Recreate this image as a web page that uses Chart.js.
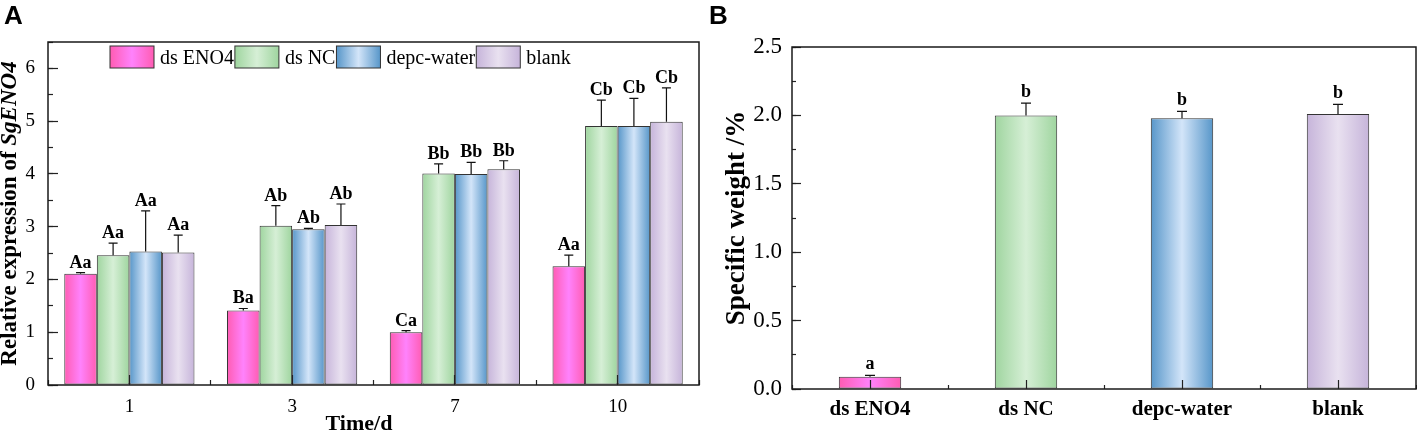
<!DOCTYPE html>
<html>
<head>
<meta charset="utf-8">
<script src="https://cdn.jsdelivr.net/npm/chart.js@4.4.1/dist/chart.umd.min.js"></script>
<style>
  html, body { margin: 0; padding: 0; background: #fff; }
  body { width: 1417px; height: 435px; position: relative; overflow: hidden; }
  .panel { position: absolute; top: 0; height: 435px; }
  #panelA { left: 0; width: 704px; }
  #panelB { left: 704px; width: 713px; }
</style>
</head>
<body>
<div class="panel" id="panelA"><canvas id="chartA"></canvas></div>
<div class="panel" id="panelB"><canvas id="chartB"></canvas></div>
<script>
// ---- Panel A: relative expression over time ----
const days = ['1', '3', '7', '10'];
const seriesNames = ['ds ENO4', 'ds NC', 'depc-water', 'blank'];

const dsENO4 = [2.11, 1.41, 1.00, 2.25];
const dsENO4Err = [0.02, 0.04, 0.03, 0.21];
const dsENO4Letters = ['Aa', 'Ba', 'Ca', 'Aa'];

const dsNC = [2.46, 3.02, 4.01, 4.91];
const dsNCErr = [0.23, 0.38, 0.18, 0.49];
const dsNCLetters = ['Aa', 'Ab', 'Bb', 'Cb'];

const depcWater = [2.53, 2.95, 4.00, 4.91];
const depcWaterErr = [0.77, 0.02, 0.22, 0.52];
const depcWaterLetters = ['Aa', 'Ab', 'Bb', 'Cb'];

const blank = [2.51, 3.03, 4.09, 4.99];
const blankErr = [0.33, 0.40, 0.16, 0.64];
const blankLetters = ['Aa', 'Ab', 'Bb', 'Cb'];

// ---- Panel B: specific weight ----
const groups = ['ds ENO4', 'ds NC', 'depc-water', 'blank'];
const specificWeight = [0.09, 2.00, 1.98, 2.01];
const specificWeightErr = [0.01, 0.09, 0.05, 0.07];
const specificWeightLetters = ['a', 'b', 'b', 'b'];

const serif = "'Liberation Serif', 'Times New Roman', serif";
const sans = "'Liberation Sans', Arial, sans-serif";
Chart.defaults.font.family = serif;
Chart.defaults.color = '#000';

// bar colours as [edge, centre] of a horizontal gradient
const palette = [
  ['#ff5cb2', '#ff82fc'],
  ['#9fd59f', '#d6efd6'],
  ['#5796c9', '#d3e5f9'],
  ['#c6b4da', '#e9e1f0']
];

function makeGradient(ctx, left, width, pair) {
  const g = ctx.createLinearGradient(left, 0, left + width, 0);
  g.addColorStop(0, pair[0]);
  g.addColorStop(0.5, pair[1]);
  g.addColorStop(1, pair[0]);
  return g;
}

// scriptable fill: gradient across the width of each bar
function barFill(pick) {
  return function (c) {
    const pair = pick(c);
    const chart = c.chart;
    const xs = chart.scales.x;
    if (c.type !== 'data' || !xs) return pair[1];
    const ds = chart.data.datasets[c.datasetIndex];
    const nSets = chart.data.datasets.length;
    const catW = xs.width / chart.data.labels.length;
    const groupW = catW * ds.categoryPercentage;
    const slotW = groupW / nSets;
    const barW = slotW * ds.barPercentage;
    const centre = xs.getPixelForValue(c.dataIndex) - groupW / 2 + slotW * (c.datasetIndex + 0.5);
    if (!isFinite(centre) || !(barW > 0)) return pair[1];
    return makeGradient(chart.ctx, centre - barW / 2, barW, pair);
  };
}

// error bars (upper half) and significance letters
const errorBars = {
  id: 'errorBars',
  afterDatasetsDraw(chart, args, opts) {
    const ctx = chart.ctx;
    const ys = chart.scales.y;
    ctx.save();
    ctx.strokeStyle = '#111';
    ctx.lineWidth = 1.2;
    ctx.fillStyle = '#000';
    ctx.font = 'bold ' + opts.fontSize + 'px ' + serif;
    ctx.textAlign = 'center';
    ctx.textBaseline = 'alphabetic';
    chart.data.datasets.forEach((ds, di) => {
      chart.getDatasetMeta(di).data.forEach((bar, i) => {
        const base = ys.getPixelForValue(ds.data[i]);
        const top = ys.getPixelForValue(ds.data[i] + ds.errors[i]);
        ctx.beginPath();
        ctx.moveTo(bar.x, base);
        ctx.lineTo(bar.x, top);
        ctx.moveTo(bar.x - opts.cap, top);
        ctx.lineTo(bar.x + opts.cap, top);
        ctx.stroke();
        ctx.fillText(ds.letters[i], bar.x, top - opts.gap);
      });
    });
    ctx.restore();
  }
};

// box round the plot area
const frame = {
  id: 'frame',
  afterDatasetsDraw(chart) {
    const a = chart.chartArea;
    const ctx = chart.ctx;
    ctx.save();
    ctx.strokeStyle = '#1a1a1a';
    ctx.lineWidth = 1.5;
    ctx.strokeRect(a.left, a.top, a.right - a.left, a.bottom - a.top);
    ctx.restore();
  }
};

function rotatedTitle(ctx, parts, cx, cy) {
  ctx.save();
  ctx.translate(cx, cy);
  ctx.rotate(-Math.PI / 2);
  ctx.textBaseline = 'middle';
  ctx.textAlign = 'left';
  let total = 0;
  parts.forEach(p => { ctx.font = p.font; p.w = ctx.measureText(p.text).width; total += p.w; });
  let x = -total / 2;
  parts.forEach(p => { ctx.font = p.font; ctx.fillText(p.text, x, 0); x += p.w; });
  ctx.restore();
}

const panelAText = {
  id: 'panelAText',
  afterDraw(chart) {
    const ctx = chart.ctx;
    ctx.save();
    ctx.fillStyle = '#000';
    ctx.font = 'bold 26px ' + sans;
    ctx.textAlign = 'left';
    ctx.textBaseline = 'alphabetic';
    ctx.fillText('A', 4, 24);

    ctx.font = 'bold 22px ' + serif;
    ctx.textAlign = 'center';
    ctx.fillText('Time/d', 359, 430);

    rotatedTitle(ctx, [
      { text: 'Relative expression of ', font: 'bold 23px ' + serif },
      { text: 'SgENO4', font: 'italic bold 23px ' + serif }
    ], 10, (chart.chartArea.top + chart.chartArea.bottom) / 2);

    // legend inside the plot
    let x = 110;
    ctx.font = '20px ' + serif;
    ctx.textAlign = 'left';
    seriesNames.forEach((name, i) => {
      ctx.fillStyle = makeGradient(ctx, x, 44, palette[i]);
      ctx.fillRect(x, 46, 44, 22);
      ctx.strokeStyle = '#333';
      ctx.lineWidth = 1;
      ctx.strokeRect(x, 46, 44, 22);
      ctx.fillStyle = '#000';
      ctx.fillText(name, x + 50, 64);
      x += 50 + ctx.measureText(name).width + 1;
    });
    ctx.restore();
  }
};

const panelBText = {
  id: 'panelBText',
  afterDraw(chart) {
    const ctx = chart.ctx;
    ctx.save();
    ctx.fillStyle = '#000';
    ctx.font = 'bold 26px ' + sans;
    ctx.textAlign = 'left';
    ctx.textBaseline = 'alphabetic';
    ctx.fillText('B', 5, 24);
    rotatedTitle(ctx, [
      { text: 'Specific weight /%', font: 'bold 27px ' + serif }
    ], 33, (chart.chartArea.top + chart.chartArea.bottom) / 2);
    ctx.restore();
  }
};

function tickGrid(len, extra) {
  return Object.assign({
    drawOnChartArea: false,
    tickLength: len,
    tickColor: '#222',
    tickWidth: 1.2
  }, extra || {});
}

// ---- chart A ----
const seriesA = [
  [dsENO4, dsENO4Err, dsENO4Letters],
  [dsNC, dsNCErr, dsNCLetters],
  [depcWater, depcWaterErr, depcWaterLetters],
  [blank, blankErr, blankLetters]
];

new Chart(document.getElementById('chartA'), {
  type: 'bar',
  data: {
    labels: days,
    datasets: seriesA.map((s, i) => ({
      label: seriesNames[i],
      data: s[0],
      errors: s[1],
      letters: s[2],
      xAxisID: 'x',
      yAxisID: 'y',
      backgroundColor: barFill(() => palette[i]),
      borderColor: '#333',
      borderWidth: 1,
      borderSkipped: false,
      barPercentage: 1,
      categoryPercentage: 0.8
    }))
  },
  options: {
    responsive: true,
    maintainAspectRatio: false,
    animation: false,
    events: [],
    layout: { padding: { left: 0, top: 42, right: 5, bottom: 0 } },
    plugins: {
      legend: { display: false },
      tooltip: { enabled: false },
      errorBars: { cap: 4.5, gap: 5, fontSize: 18 }
    },
    scales: {
      x: {
        type: 'category', weight: 1, offset: true,
        grid: tickGrid(-5, { offset: true }),
        border: { display: false },
        ticks: { font: { size: 19 }, padding: 16, color: '#000' },
        afterFit: s => { s.height = 50; }
      },
      x2: {
        type: 'category', weight: 0, offset: true,
        grid: tickGrid(-10, { offset: false, z: 1 }),
        border: { display: false },
        ticks: { display: false },
        afterFit: s => { s.height = 0; }
      },
      y: {
        type: 'linear', position: 'left', weight: 1, min: 0, max: 6.5,
        grid: tickGrid(-10),
        border: { display: false },
        ticks: { stepSize: 1, includeBounds: false, padding: 23, font: { size: 19 }, color: '#000' },
        afterFit: s => { s.width = 48; }
      },
      y2: {
        type: 'linear', position: 'left', weight: 0, min: 0, max: 6.5,
        grid: tickGrid(-5),
        border: { display: false },
        ticks: { stepSize: 0.5, display: false },
        afterFit: s => { s.width = 0; }
      }
    }
  },
  plugins: [errorBars, frame, panelAText]
});

// ---- chart B ----
new Chart(document.getElementById('chartB'), {
  type: 'bar',
  data: {
    labels: groups,
    datasets: [{
      label: 'Specific weight',
      data: specificWeight,
      errors: specificWeightErr,
      letters: specificWeightLetters,
      xAxisID: 'x',
      yAxisID: 'y',
      backgroundColor: barFill(c => palette[c.dataIndex] || palette[0]),
      borderColor: '#333',
      borderWidth: 1,
      borderSkipped: false,
      barPercentage: 0.4,
      categoryPercentage: 1
    }]
  },
  options: {
    responsive: true,
    maintainAspectRatio: false,
    animation: false,
    events: [],
    layout: { padding: { left: 0, top: 47, right: 1, bottom: 0 } },
    plugins: {
      legend: { display: false },
      tooltip: { enabled: false },
      errorBars: { cap: 5, gap: 6, fontSize: 18 }
    },
    scales: {
      x: {
        type: 'category', weight: 1, offset: true,
        grid: tickGrid(-4, { offset: true }),
        border: { display: false },
        ticks: { font: { size: 21, weight: 'bold' }, padding: 12, color: '#000' },
        afterFit: s => { s.height = 46; }
      },
      x2: {
        type: 'category', weight: 0, offset: true,
        grid: tickGrid(-9, { offset: false, z: 1 }),
        border: { display: false },
        ticks: { display: false },
        afterFit: s => { s.height = 0; }
      },
      y: {
        type: 'linear', position: 'left', weight: 1, min: 0, max: 2.5,
        grid: tickGrid(-9),
        border: { display: false },
        ticks: { stepSize: 0.5, padding: 19, font: { size: 23 }, color: '#000', callback: v => v.toFixed(1) },
        afterFit: s => { s.width = 88; }
      },
      y2: {
        type: 'linear', position: 'left', weight: 0, min: 0, max: 2.5,
        grid: tickGrid(-4),
        border: { display: false },
        ticks: { stepSize: 0.25, display: false },
        afterFit: s => { s.width = 0; }
      }
    }
  },
  plugins: [errorBars, frame, panelBText]
});
</script>
</body>
</html>
